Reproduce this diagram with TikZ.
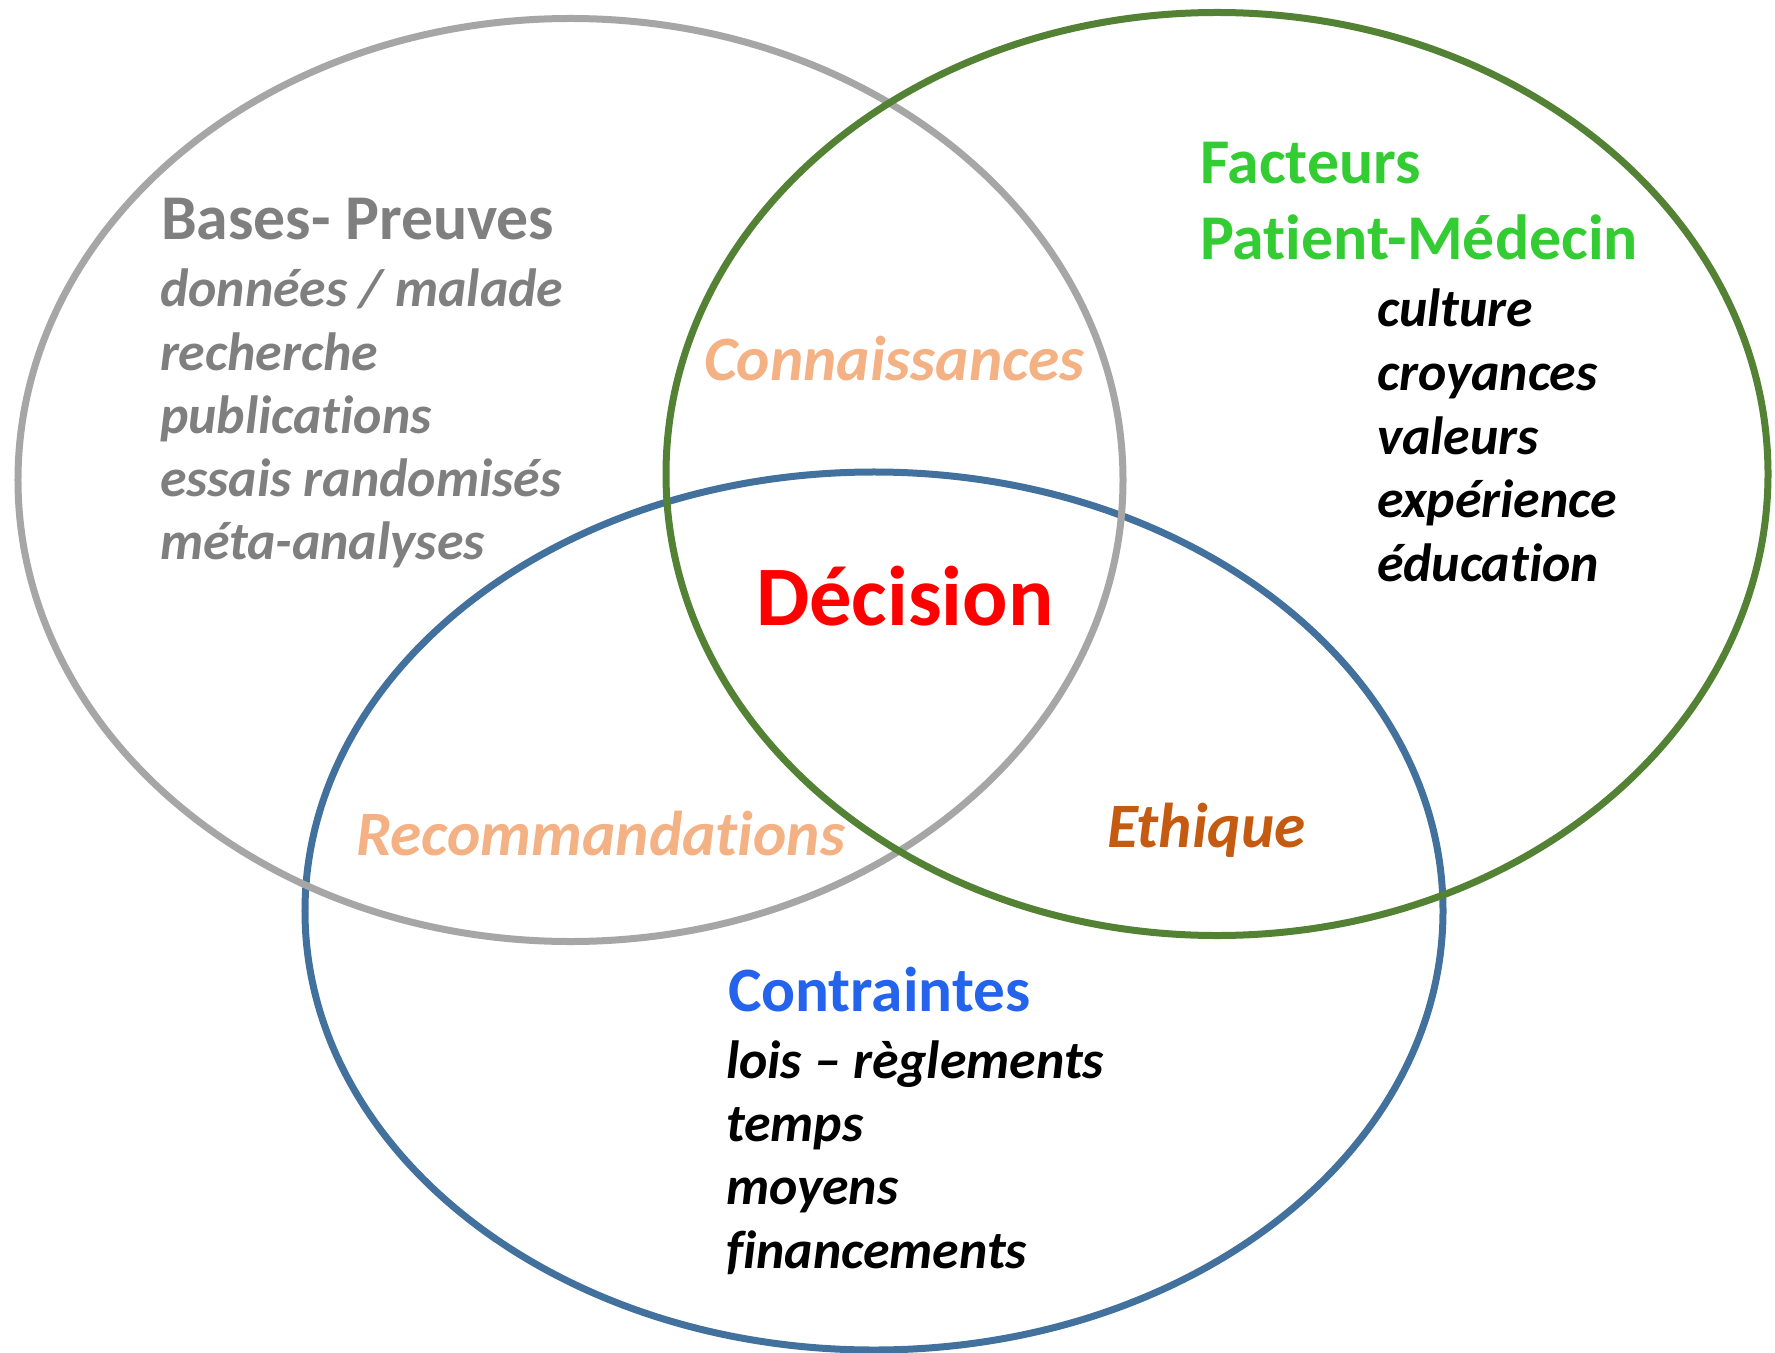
\documentclass[tikz,border=0pt]{standalone}
\usepackage{fontspec}
\setmainfont{Carlito}[Ligatures=NoCommon]
\definecolor{ringgray}{HTML}{A6A6A6}
\definecolor{ringgreen}{HTML}{548235}
\definecolor{ringblue}{HTML}{41719C}
\definecolor{txtgray}{HTML}{7F7F7F}
\definecolor{txtgreen}{HTML}{33CC33}
\definecolor{txtblue}{HTML}{2463EB}
\definecolor{txtpeach}{HTML}{F4B183}
\definecolor{txtbrown}{HTML}{C55A11}
\definecolor{txtred}{HTML}{FF0000}
\begin{document}
\begin{tikzpicture}[x=1bp,y=-1bp,
  ring/.style={line width=7bp},
  lbl/.style={inner sep=0pt,outer sep=0pt,anchor=base west},
  head/.style={lbl,font=\fontsize{64}{64}\selectfont\bfseries},
  item/.style={lbl,font=\fontsize{54}{54}\selectfont\bfseries\itshape},
  zone/.style={lbl,font=\fontsize{63.5}{63.5}\selectfont\bfseries\itshape,text=txtpeach}]
\useasboundingbox[fill=white] (0,0) rectangle (1775,1353);

% the three overlapping circles of influence
\draw[ring,ringblue]  (874,911) ellipse [x radius=569bp, y radius=439bp];
\draw[ring,ringgray]  (570.5,480) ellipse [x radius=552.5bp, y radius=461.5bp];
\draw[ring,ringgreen] (1217,474) ellipse [x radius=551bp, y radius=461.5bp];

% evidence circle
\node[head,text=txtgray] (bases) at (161,240) {Bases- Preuves};
\foreach \t [count=\i] in {données / malade, recherche, publications, essais randomisés, méta-analyses}
  \node[item,text=txtgray] (bases\i) at (160,306.7+63.3*\i-63.3) {\t};

% patient-physician circle
\node[head,text=txtgreen] (fact1) at (1200,183.3) {Facteurs};
\node[head,text=txtgreen] (fact2) at (1200,260) {Patient-Médecin};
\foreach \t [count=\i] in {culture, croyances, valeurs, expérience, éducation}
  \node[item] (fact\i item) at (1377,326.7+63.7*\i-63.7) {\t};

% constraints circle
\node[head,text=txtblue,font=\fontsize{63.5}{63.5}\selectfont\bfseries] (contr) at (728,1011) {Contraintes};
\foreach \t [count=\i] in {lois – règlements, temps, moyens, financements}
  \node[item] (contr\i) at (726,1078.3+63.3*\i-63.3) {\t};

% overlaps
\node[zone] (conn) at (704,380) {Connaissances};
\node[zone] (reco) at (356,855) {Recommandations};
\node[zone,text=txtbrown] (ethi) at (1107,847) {Ethique};
\node[lbl,text=txtred,font=\fontsize{85}{85}\selectfont\bfseries] (deci) at (756,625) {Décision};
\end{tikzpicture}
\end{document}
